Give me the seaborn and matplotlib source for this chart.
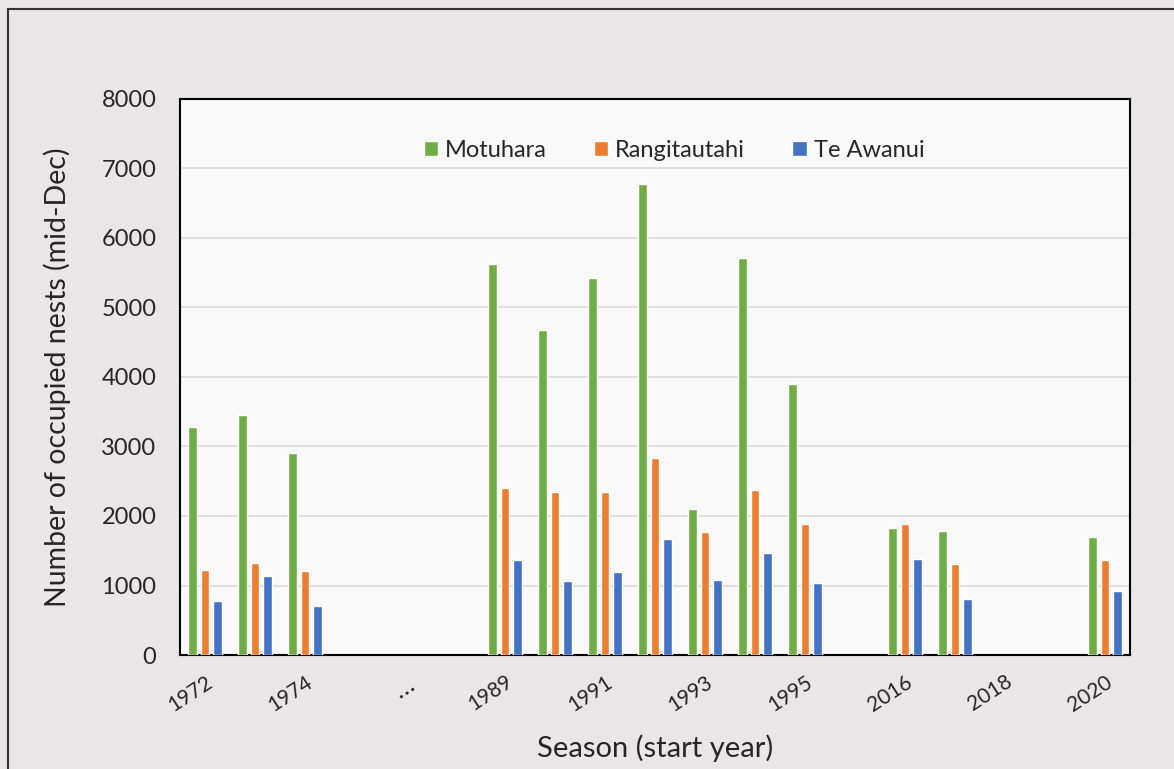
import pandas as pd
import seaborn as sns
import matplotlib.pyplot as plt
from matplotlib.patches import Rectangle

# slots along the x axis (blank ones are gaps in the record)
slots = ["1972", "1973", "1974", " ", "…", "  ", "1989", "1990", "1991", "1992",
         "1993", "1994", "1995", "   ", "2016", "2017", "2018", "2019", "2020"]
tick_labels = ["1972", "1974", "…", "1989", "1991", "1993", "1995", "2016", "2018", "2020"]

seasons = ["1972", "1973", "1974", "1989", "1990", "1991", "1992", "1993", "1994", "1995",
           "2016", "2017", "2020"]
motuhara = [3280, 3450, 2900, 5620, 4680, 5430, 6775, 2105, 5710, 3895, 1830, 1780, 1695]
rangitautahi = [1220, 1330, 1210, 2410, 2350, 2350, 2830, 1770, 2370, 1890, 1880, 1310, 1360]
te_awanui = [780, 1130, 710, 1370, 1060, 1190, 1675, 1085, 1470, 1040, 1385, 810, 920]

colonies = ["Motuhara", "Rangitautahi", "Te Awanui"]
colours = ["#70ad47", "#ed7d31", "#4472c4"]

df = pd.DataFrame({"Season": seasons, "Motuhara": motuhara,
                   "Rangitautahi": rangitautahi, "Te Awanui": te_awanui})
df = df.melt(id_vars="Season", var_name="Colony", value_name="Nests")

sns.set_style("white")
plt.rcParams["font.family"] = ["Lato", "DejaVu Sans"]

fig = plt.figure(figsize=(11.74, 7.69), dpi=100, facecolor="#e8e6e6")
fig.patches.append(Rectangle((8 / 1174, -0.1), 1.2, 1.1 - 9 / 769, transform=fig.transFigure,
                             fill=False, edgecolor="#333333", linewidth=1.5))
ax = fig.add_axes([180 / 1174, 1 - 655 / 769, 950 / 1174, 556 / 769])
ax.set_facecolor("#f9f9f9")

sns.barplot(data=df, x="Season", y="Nests", hue="Colony", order=slots, hue_order=colonies,
            palette=colours, width=0.74, gap=0.3, saturation=1, ax=ax, zorder=3)

ax.set_ylim(0, 8000)
ax.set_xlim(-0.5, len(slots) - 0.5)
ax.set_yticks(range(0, 8001, 1000))
ax.yaxis.grid(True, color="#d9d9d9", linewidth=1.2, zorder=0)
ax.tick_params(axis="y", direction="in", length=7, width=1.2, labelsize=17, pad=17)

ax.set_xticks(range(0, len(slots), 2))
ax.set_xticklabels(tick_labels, rotation=33, rotation_mode="anchor", ha="right", fontsize=15)
ax.get_xticklabels()[2].set_fontsize(19)
ax.set_xticks([i + 0.5 for i in range(len(slots) - 1)], minor=True)
ax.tick_params(axis="x", which="major", length=0, pad=12)
ax.tick_params(axis="x", which="minor", direction="in", length=7, width=1.2)

for s in ax.spines.values():
    s.set_color("black")
    s.set_linewidth(1.5)

ax.set_xlabel("Season (start year)", fontsize=21, labelpad=14)
ax.set_ylabel("Number of occupied nests (mid-Dec)", fontsize=20.5, labelpad=22)

leg = ax.legend(loc="upper center", bbox_to_anchor=(0.52, 0.965), ncol=3, frameon=False,
                fontsize=17, handlelength=0.6, handleheight=0.6, handletextpad=0.3,
                columnspacing=2.0)

plt.savefig("out.png", dpi=100, facecolor=fig.get_facecolor())
